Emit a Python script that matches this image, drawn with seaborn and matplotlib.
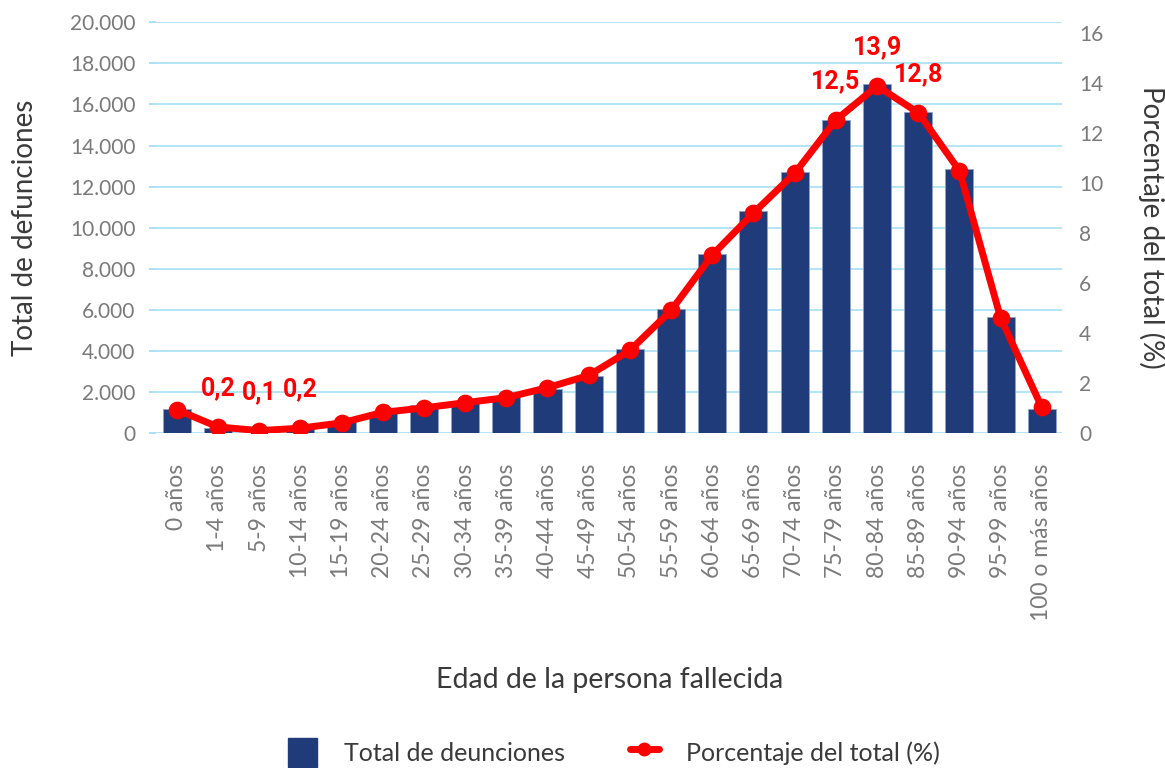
import matplotlib
matplotlib.use("Agg")
import matplotlib.pyplot as plt
import matplotlib.ticker as mticker
from matplotlib.patches import Patch
from matplotlib.lines import Line2D
import seaborn as sns

# Datos
edades = ["0 años", "1-4 años", "5-9 años", "10-14 años", "15-19 años", "20-24 años",
          "25-29 años", "30-34 años", "35-39 años", "40-44 años", "45-49 años", "50-54 años",
          "55-59 años", "60-64 años", "65-69 años", "70-74 años", "75-79 años", "80-84 años",
          "85-89 años", "90-94 años", "95-99 años", "100 o más años"]
defunciones = [1170, 260, 150, 200, 550, 1040, 1360, 1520, 1770, 2170, 2800, 4080,
               6020, 8740, 10820, 12720, 15230, 16980, 15620, 12850, 5640, 1180]
porcentaje = [0.94, 0.25, 0.1, 0.2, 0.41, 0.83, 1.01, 1.22, 1.42, 1.82, 2.31, 3.31,
              4.91, 7.13, 8.81, 10.4, 12.53, 13.89, 12.82, 10.5, 4.6, 1.03]
etiquetas = {1: "0,2", 2: "0,1", 3: "0,2", 16: "12,5", 17: "13,9", 18: "12,8"}

azul = "#1f3b7a"
rojo = "#ff0000"
grid_col = "#9fdcf5"
gris = "#7a7a7a"
oscuro = "#3a3a3a"

sns.set_theme(style="white")
plt.rcParams["font.family"] = ["Lato", "DejaVu Sans"]

fig = plt.figure(figsize=(11.65, 7.68), dpi=100)
ax = fig.add_axes([0.134, 0.436, 0.778, 0.535])

sns.barplot(x=edades, y=defunciones, color=azul, saturation=1, width=0.68,
            edgecolor="#8fa3c8", linewidth=0.6, ax=ax, zorder=2)
ax.set_ylim(0, 20000)
ax.set_yticks(range(0, 20001, 2000))
ax.yaxis.set_major_formatter(mticker.FuncFormatter(lambda v, p: f"{int(v):,}".replace(",", ".")))
ax.grid(axis="y", color=grid_col, linewidth=1.1, zorder=0)
ax.set_axisbelow(True)
for s in ax.spines.values():
    s.set_visible(False)
ax.tick_params(axis="y", colors=grid_col, labelcolor=gris, labelsize=15, length=5, pad=10)
ax.tick_params(axis="x", labelcolor=gris, labelsize=16.5, length=0, pad=22, rotation=90)
ax.set_xlabel("Edad de la persona fallecida", fontsize=20.5, color=oscuro, labelpad=33)
ax.set_ylabel("Total de defunciones", fontsize=20, color=oscuro, labelpad=23)

ax2 = ax.twinx()
sns.pointplot(x=edades, y=porcentaje, color=rojo, markers="o", linewidth=5,
              markersize=9, ax=ax2)
ax2.set_ylim(0, 16 * 411 / 400)
ax2.set_yticks(range(0, 17, 2))
for s in ax2.spines.values():
    s.set_visible(False)
ax2.tick_params(axis="y", colors=grid_col, labelcolor=gris, labelsize=15, length=0, pad=12)
ax2.set_ylabel("Porcentaje del total (%)", fontsize=20, color=oscuro, rotation=270, labelpad=45)
ax2.grid(False)
ax2.set_xlim(-0.5, len(edades) - 0.5)
ax.set_xlim(-0.5, len(edades) - 0.5)

for i, txt in etiquetas.items():
    ax2.annotate(txt, (i, porcentaje[i]), xytext=(0, 28), textcoords="offset points",
                 ha="center", va="center", color=rojo, fontsize=18, fontweight="bold",
                 family=["Roboto", "DejaVu Sans"])

handles = [Patch(facecolor=azul, edgecolor=azul),
           Line2D([0], [0], color=rojo, linewidth=5, marker="o", markersize=9)]
fig.legend(handles, ["Total de deunciones", "Porcentaje del total (%)"],
           loc="center", bbox_to_anchor=(0.527, 0.02), ncol=2, frameon=False,
           fontsize=18, handlelength=1.15, handleheight=1.45, columnspacing=2.6,
           handletextpad=1.1, labelcolor=oscuro)

fig.savefig("out.png", dpi=100)
